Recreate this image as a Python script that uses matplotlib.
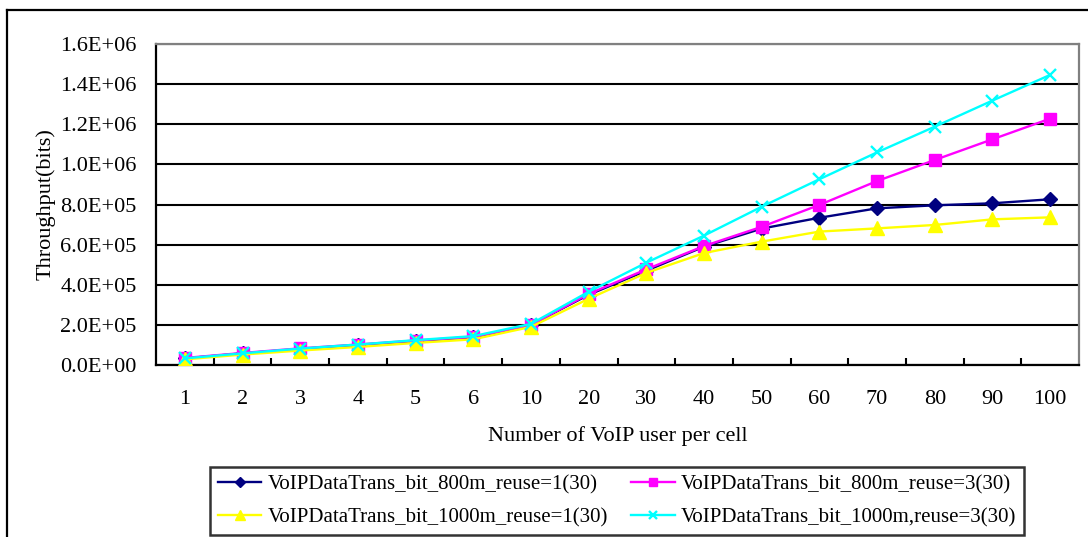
import matplotlib
matplotlib.use("Agg")
import matplotlib.pyplot as plt
from matplotlib.lines import Line2D
from matplotlib.ticker import FixedLocator, FuncFormatter

plt.rcParams['font.family'] = ['Liberation Serif', 'DejaVu Serif']

# Number of VoIP users per cell (categorical axis)
users = ['1', '2', '3', '4', '5', '6', '10', '20', '30', '40', '50',
         '60', '70', '80', '90', '100']

# Throughput (bits) for each configuration
bit_800m_reuse1 = [3.3e4, 5.8e4, 8.0e4, 1.00e5, 1.20e5, 1.38e5, 2.00e5, 3.50e5,
                   4.70e5, 5.90e5, 6.80e5, 7.34e5, 7.81e5, 7.96e5, 8.06e5, 8.26e5]
bit_800m_reuse3 = [3.5e4, 6.0e4, 8.3e4, 1.02e5, 1.22e5, 1.40e5, 2.00e5, 3.54e5,
                   4.77e5, 5.93e5, 6.89e5, 7.98e5, 9.17e5, 1.022e6, 1.125e6, 1.228e6]
bit_1000m_reuse1 = [2.8e4, 5.2e4, 7.2e4, 9.0e4, 1.10e5, 1.28e5, 1.90e5, 3.30e5,
                    4.59e5, 5.58e5, 6.15e5, 6.65e5, 6.81e5, 6.98e5, 7.26e5, 7.36e5]
bit_1000m_reuse3 = [3.3e4, 5.8e4, 8.2e4, 1.02e5, 1.24e5, 1.44e5, 2.05e5, 3.65e5,
                    5.10e5, 6.45e5, 7.89e5, 9.26e5, 1.060e6, 1.188e6, 1.318e6, 1.446e6]

series_labels = ['VoIPDataTrans_bit_800m_reuse=1(30)',
                 'VoIPDataTrans_bit_800m_reuse=3(30)',
                 'VoIPDataTrans_bit_1000m_reuse=1(30)',
                 'VoIPDataTrans_bit_1000m,reuse=3(30)']

W, H = 1088, 537
fig = plt.figure(figsize=(W / 100, H / 100), dpi=100)
fig.patch.set_facecolor('white')

# Outer chart frame (left and top edges)
fig.add_artist(Line2D([7 / W, 7 / W], [0, 1 - 10 / H], color='black', lw=1.6,
                      transform=fig.transFigure))
fig.add_artist(Line2D([7 / W, 1], [1 - 10 / H, 1 - 10 / H], color='black', lw=1.6,
                      transform=fig.transFigure))

ax = fig.add_axes([156 / W, 1 - 365 / H, (1079 - 156) / W, (365 - 44) / H])

x = list(range(len(users)))
l1, = ax.plot(x, bit_800m_reuse1, color='#000080', marker='D', markersize=7.5,
              lw=1.7, label=series_labels[0], zorder=3)
l2, = ax.plot(x, bit_800m_reuse3, color='#FF00FF', marker='s', markersize=8,
              lw=1.7, label=series_labels[1], zorder=3)
l3, = ax.plot(x, bit_1000m_reuse1, color='#FFFF00', marker='^', markersize=9.5,
              lw=1.7, label=series_labels[2], zorder=3)
l4, = ax.plot(x, bit_1000m_reuse3, color='#00FFFF', marker='x', markersize=8,
              mew=1.7, lw=1.7, label=series_labels[3], zorder=4)

ax.set_xlim(-0.5, len(users) - 0.5)
ax.set_ylim(0, 1.6e6)

# y axis: gridlines every 2E+05, Excel-style scientific labels
yticks = [i * 2e5 for i in range(9)]
ax.set_yticks(yticks)
ax.yaxis.set_major_formatter(FuncFormatter(lambda v, p: '{:.1E}'.format(v)))
ax.yaxis.grid(True, color='black', lw=1.5)
ax.set_axisbelow(True)
ax.tick_params(axis='y', length=0, pad=14, labelsize=16)

# x axis: labels at category centres, tick marks between categories
ax.set_xticks(x)
ax.set_xticklabels(users)
ax.xaxis.set_minor_locator(FixedLocator([i + 0.5 for i in range(len(users) - 1)]))
ax.tick_params(axis='x', which='major', length=0, pad=18, labelsize=16)
ax.tick_params(axis='x', which='minor', direction='in', length=5, width=1.5,
               color='black')

for side in ('left', 'bottom'):
    ax.spines[side].set_color('black')
    ax.spines[side].set_linewidth(1.6)
for side in ('top', 'right'):
    ax.spines[side].set_color('#808080')
    ax.spines[side].set_linewidth(1.6)

ax.set_xlabel('Number of VoIP user per cell', fontsize=16, labelpad=12)
ax.set_ylabel('Throughput(bits)', fontsize=16, labelpad=3)

leg = fig.legend([l1, l3, l2, l4],
                 [series_labels[0], series_labels[2], series_labels[1], series_labels[3]],
                 ncol=2, loc='center', bbox_to_anchor=(617 / W, 1 - 501 / H),
                 fontsize=15, frameon=True, fancybox=False, edgecolor='black',
                 handlelength=2.1, handletextpad=0.3, columnspacing=1.1,
                 borderpad=0.35, labelspacing=0.65, markerscale=0.7)
leg.get_frame().set_linewidth(1.8)

fig.savefig('out.png', dpi=100, facecolor='white')
